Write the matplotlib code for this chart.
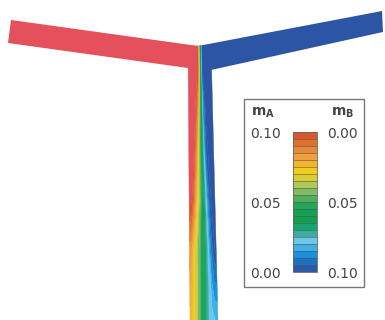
import numpy as np
import matplotlib
matplotlib.use('Agg')
import matplotlib.pyplot as plt
from matplotlib.colors import ListedColormap, BoundaryNorm
from matplotlib.cm import ScalarMappable
from matplotlib.patches import Polygon, Rectangle

# 데이터 ==========================================================
# 채널 줄기(stem): 행 = 위에서부터의 y 위치, 열 = 폭 방향 비율
row_y = [46, 68, 100, 150, 200, 250, 320]
col_u = [0.0, 0.1, 0.2, 0.3, 0.4, 0.5, 0.6, 0.7, 0.8, 0.9, 1.0]
m_a = [
    [0.100, 0.100, 0.100, 0.100, 0.100, 0.050, 0.000, 0.000, 0.000, 0.000, 0.000],
    [0.100, 0.100, 0.100, 0.100, 0.100, 0.050, 0.000, 0.000, 0.000, 0.000, 0.000],
    [0.100, 0.100, 0.100, 0.100, 0.085, 0.045, 0.012, 0.000, 0.000, 0.000, 0.000],
    [0.100, 0.100, 0.100, 0.088, 0.065, 0.042, 0.022, 0.003, 0.000, 0.000, 0.000],
    [0.100, 0.100, 0.090, 0.075, 0.060, 0.045, 0.030, 0.015, 0.002, 0.000, 0.000],
    [0.088, 0.080, 0.070, 0.060, 0.052, 0.042, 0.032, 0.022, 0.010, 0.002, 0.000],
    [0.078, 0.074, 0.068, 0.058, 0.048, 0.038, 0.028, 0.024, 0.022, 0.020, 0.020],
]

# 색 구간 (m_A 0.00 -> 0.10)
band_colors = ['#2a5aa5', '#1c72c0', '#1890dc', '#40b0e4', '#70c6ea',
               '#38b0a0', '#18a46c', '#10a050', '#14a050', '#24a658',
               '#50ae5c', '#80bc60', '#b0c858', '#d8d030', '#f2cc18',
               '#f4b42c', '#eea040', '#e88838', '#e07030', '#d8582c']
red_arm = '#e4505c'
blue_arm = '#2d55a5'

cb_left_labels = ['0.10', '0.05', '0.00']
cb_right_labels = ['0.00', '0.05', '0.10']

# 그림 ============================================================
fig = plt.figure(figsize=(3.85, 3.2), dpi=100)
ax = fig.add_axes([0, 0, 1, 1])
ax.set_xlim(0, 385)
ax.set_ylim(320, 0)
ax.axis('off')

# 양쪽 팔
ax.add_patch(Polygon([(11, 20), (198, 46), (188, 68), (8, 43)],
                     closed=True, fc=red_arm, ec='none'))
ax.add_patch(Polygon([(198, 46), (382, 11), (383, 32), (211, 70)],
                     closed=True, fc=blue_arm, ec='none'))

# 줄기 격자
yy = np.array(row_y, dtype=float)
uu = np.array(col_u)
left = 188 + 2 * (yy - 46) / 274
right = 211 + 7 * (yy - 46) / 274
X = left[:, None] + uu[None, :] * (right - left)[:, None]
Y = np.repeat(yy[:, None], len(uu), axis=1)
Z = np.array(m_a)

cmap = ListedColormap(band_colors)
cmap.set_over(red_arm)
cmap.set_under(blue_arm)
levels = np.linspace(0, 0.1, 21)
levels[0] = 0.001
levels[-1] = 0.099
cs = ax.contourf(X, Y, Z, levels=levels, cmap=cmap, extend='both', antialiased=True)
cs.set_edgecolor('face')   # 경계 틈 없애기
cs.set_linewidth(0.3)

# 범례 상자
ax.add_patch(Rectangle((244, 99), 120, 188, fc='white', ec='#777777', lw=1))
ax.text(263, 113, r'$\mathbf{m}_\mathbf{A}$', ha='center', va='center',
        fontsize=10, color='#444444')
ax.text(343, 113, r'$\mathbf{m}_\mathbf{B}$', ha='center', va='center',
        fontsize=10, color='#444444')

cax = fig.add_axes([293 / 385, 1 - 272 / 320, 24 / 385, 140 / 320])
sm = ScalarMappable(norm=BoundaryNorm(np.linspace(0, 0.1, 21), 20), cmap=ListedColormap(band_colors))
cb = fig.colorbar(sm, cax=cax, drawedges=True)
cb.outline.set_edgecolor('#666666')
cb.outline.set_linewidth(0.6)
cb.dividers.set_color('#555555')
cb.dividers.set_linewidth(0.4)
cax.minorticks_off()
cax.yaxis.set_ticks_position('left')
cax.set_yticks([0.1, 0.05, 0.0])
cax.set_yticklabels(cb_left_labels, fontsize=10, color='#444444')
cax.tick_params(axis='y', which='both', length=0, pad=9)

sec = cax.secondary_yaxis('right', functions=(lambda v: 0.1 - v, lambda v: 0.1 - v))
sec.set_yticks([0.0, 0.05, 0.1])
sec.set_yticklabels(cb_right_labels, fontsize=10, color='#444444')
sec.tick_params(axis='y', which='both', length=0, pad=7)
sec.minorticks_off()
sec.spines['right'].set_visible(False)

fig.savefig('out.png', dpi=100)
